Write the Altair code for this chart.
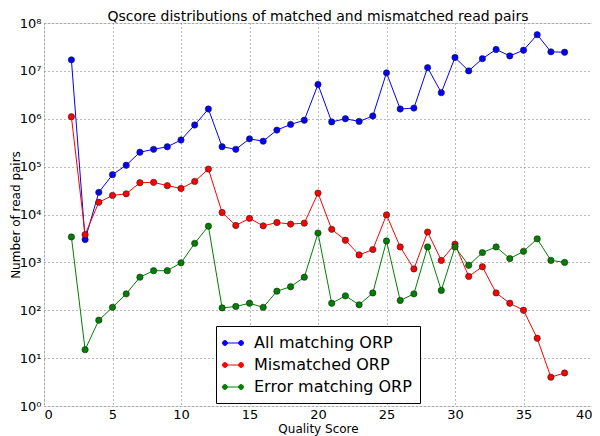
import altair as alt
import pandas as pd

quality = list(range(2, 39))
all_matching = [1.7e7, 3.0e3, 2.9e4, 6.8e4, 1.07e5, 2.0e5, 2.3e5, 2.6e5, 3.6e5, 7.4e5,
                1.6e6, 2.6e5, 2.3e5, 3.8e5, 3.4e5, 5.8e5, 7.6e5, 9.3e5, 5.2e6, 8.6e5,
                1.0e6, 8.8e5, 1.14e6, 9.1e6, 1.6e6, 1.67e6, 1.17e7, 3.5e6, 1.9e7, 1.0e7,
                1.8e7, 2.8e7, 2.05e7, 2.7e7, 5.7e7, 2.5e7, 2.45e7]
mismatched = [1.1e6, 3.8e3, 1.8e4, 2.5e4, 2.7e4, 4.6e4, 4.7e4, 4.0e4, 3.5e4, 4.9e4,
              8.9e4, 1.1e4, 5.9e3, 8.3e3, 5.8e3, 6.8e3, 6.3e3, 6.6e3, 2.8e4, 4.9e3,
              2.9e3, 1.43e3, 1.85e3, 9.8e3, 2.1e3, 7.3e2, 4.3e3, 1.1e3, 2.4e3, 5.1e2,
              8.1e2, 2.3e2, 1.4e2, 1.0e2, 26, 4.0, 4.9]
error_matching = [3.4e3, 15, 62, 115, 2.2e2, 4.9e2, 6.7e2, 6.7e2, 9.8e2, 2.5e3,
                  5.7e3, 1.12e2, 1.2e2, 1.4e2, 1.15e2, 2.5e2, 3.1e2, 4.9e2, 4.1e3, 1.4e2,
                  2.0e2, 1.3e2, 2.3e2, 2.8e3, 1.6e2, 2.2e2, 2.1e3, 2.6e2, 2.1e3, 8.7e2,
                  1.6e3, 2.1e3, 1.2e3, 1.7e3, 3.1e3, 1.1e3, 1.0e3]
series_names = ["All matching ORP", "Mismatched ORP", "Error matching ORP"]
series_colors = ["#0000ff", "#ff0000", "#008000"]
x_ticks = [0, 5, 10, 15, 20, 25, 30, 35, 40]
y_ticks = [1, 10, 100, 1e3, 1e4, 1e5, 1e6, 1e7, 1e8]

rows = []
for name, vals in zip(series_names, [all_matching, mismatched, error_matching]):
    for q, v in zip(quality, vals):
        rows.append({"Quality Score": q, "Count": v, "Series": name})
df = pd.DataFrame(rows)

FONT = "DejaVu Sans"
PLOT_W, PLOT_H = 548, 383
legend_symbol = ("M-1,0H1"
                 "M-1.3,0a0.3,0.3 0 1,0 0.6,0a0.3,0.3 0 1,0 -0.6,0"
                 "M0.7,0a0.3,0.3 0 1,0 0.6,0a0.3,0.3 0 1,0 -0.6,0")

color = alt.Color(
    "Series:N",
    scale=alt.Scale(domain=series_names, range=series_colors),
    sort=series_names,
    legend=alt.Legend(
        title=None, orient="none", legendX=172, legendY=303,
        direction="vertical",
        labelFont=FONT, labelFontSize=16, labelColor="black",
        symbolType=legend_symbol, symbolSize=260, symbolStrokeWidth=1,
        rowPadding=5, padding=8, labelOffset=12,
        strokeColor="black", fillColor="white", cornerRadius=0,
    ),
)

x = alt.X("Quality Score:Q",
          scale=alt.Scale(domain=[0, 40], nice=False, zero=False),
          axis=alt.Axis(values=x_ticks, title="Quality Score", format="d",
                        titleFont=FONT, titleFontSize=12, titleFontWeight="normal",
                        labelFont=FONT, labelFontSize=13, labelColor="black",
                        titleColor="black", titlePadding=2,
                        grid=True, gridDash=[1, 3], gridColor="#777777",
                        domain=False, tickSize=0, labelPadding=2))
y = alt.Y("Count:Q",
          scale=alt.Scale(type="log", domain=[1, 1e8], nice=False),
          axis=alt.Axis(values=y_ticks, title="Number of read pairs",
                        labelExpr="'10' + ['⁰','¹','²','³','⁴','⁵','⁶','⁷','⁸'][round(log(datum.value)/LN10)]",
                        titleFont=FONT, titleFontSize=12, titleFontWeight="normal",
                        labelFont=FONT, labelFontSize=13, labelColor="black",
                        titleColor="black",
                        titleX=-29, titleY=PLOT_H / 2, titleAngle=270,
                        titleAlign="center", titleBaseline="middle",
                        grid=True, gridDash=[1, 3], gridColor="#777777",
                        domain=False, tickSize=0, labelPadding=3))

base = alt.Chart(df)
lines = base.mark_line(strokeWidth=1).encode(x=x, y=y, color=color, order="Quality Score:Q")
points = base.mark_point(filled=True, size=40, opacity=1, stroke="#222222", strokeWidth=0.6).encode(
    x=x, y=y, color=color)

chart = alt.layer(lines, points).properties(
    width=PLOT_W, height=PLOT_H,
    title=alt.Title("Qscore distributions of matched and mismatched read pairs",
                    font=FONT, fontSize=14, fontWeight="normal", color="black",
                    offset=2, dy=20, baseline="alphabetic", frame="group", anchor="middle"),
    autosize=alt.AutoSizeParams(type="none"),
    padding={"left": 36, "top": 15, "right": 0, "bottom": 30},
).configure_view(stroke="black", strokeWidth=1).configure(background="white")

chart.save("out.html", embed_options={"renderer": "svg", "actions": False})
